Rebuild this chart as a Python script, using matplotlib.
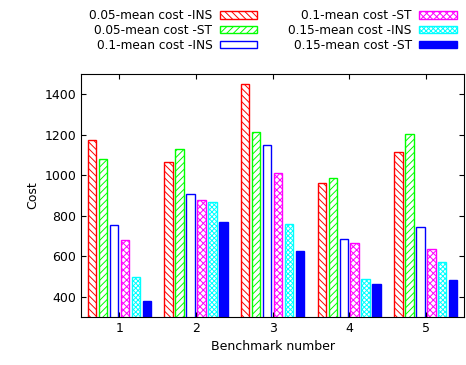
import matplotlib
matplotlib.use("Agg")
import matplotlib.pyplot as plt
import numpy as np

# benchmark costs
benchmarks = [1, 2, 3, 4, 5]
series_labels = ["0.05-mean cost -INS", "0.05-mean cost -ST", "0.1-mean cost -INS",
                 "0.1-mean cost -ST", "0.15-mean cost -INS", "0.15-mean cost -ST"]
ins_005 = [1175, 1066, 1453, 962, 1116]
st_005 = [1078, 1128, 1213, 984, 1204]
ins_01 = [756, 905, 1149, 683, 744]
st_01 = [681, 878, 1009, 666, 637]
ins_015 = [498, 866, 760, 488, 569]
st_015 = [377, 769, 623, 464, 484]

all_series = [ins_005, st_005, ins_01, st_01, ins_015, st_015]
colors = ["#ff0000", "#00ff00", "#0000ff", "#ff00ff", "#00ffff", "#0000ff"]
faces = ["white", "white", "white", "white", "white", "#0000ff"]
hatches = ["\\\\\\\\\\", "/////", "", "xxxxx", "xxxxxxx", ""]

plt.rcParams["hatch.linewidth"] = 0.7
fig = plt.figure(figsize=(4.66, 3.65), dpi=100)
ax = fig.add_axes([0.174, 0.132, 0.822, 0.665])

x = np.array(benchmarks, dtype=float)
pitch = 0.143
width = 0.11
for i, vals in enumerate(all_series):
    offset = (i - 2.5) * pitch
    ax.bar(x + offset, vals, width=width, facecolor=faces[i], edgecolor=colors[i],
           hatch=hatches[i], linewidth=1.0, label=series_labels[i])

ax.set_xlim(0.5, 5.5)
ax.set_ylim(300, 1500)
ax.set_xticks(benchmarks)
ax.set_yticks([400, 600, 800, 1000, 1200, 1400])
ax.tick_params(direction="in", top=True, right=True, labelsize=9)
ax.set_xlabel("Benchmark number", fontsize=9)
ax.set_ylabel("Cost", fontsize=9)

fig.legend(loc="upper right", bbox_to_anchor=(1.003, 1.005), ncol=2, frameon=False,
           markerfirst=False, fontsize=8.7, handlelength=3.1, handleheight=0.6,
           labelspacing=0.15, columnspacing=2.6, handletextpad=0.6)

fig.savefig("out.png", dpi=100)
